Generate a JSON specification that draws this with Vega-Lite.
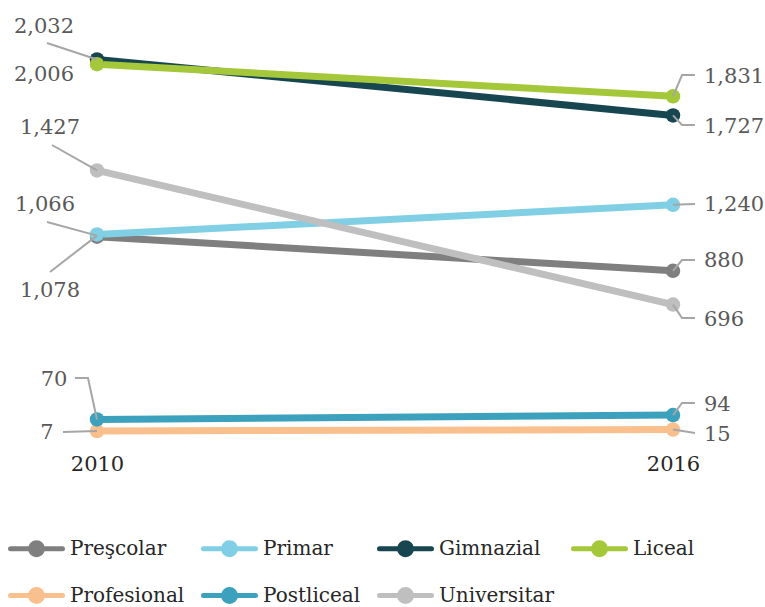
{
  "$schema": "https://vega.github.io/schema/vega-lite/v6.json",
  "width": 765,
  "height": 445,
  "autosize": {"type": "none"},
  "padding": {"left": 0, "top": 0, "right": 0, "bottom": 162},
  "background": "white",
  "config": {"view": {"stroke": null}, "font": "DejaVu Serif"},
  "datasets": {
    "series": [
      {"level": "Preşcolar", "year": 2010, "value": 1066},
      {"level": "Preşcolar", "year": 2016, "value": 880},
      {"level": "Primar", "year": 2010, "value": 1078},
      {"level": "Primar", "year": 2016, "value": 1240},
      {"level": "Gimnazial", "year": 2010, "value": 2032},
      {"level": "Gimnazial", "year": 2016, "value": 1727},
      {"level": "Liceal", "year": 2010, "value": 2006},
      {"level": "Liceal", "year": 2016, "value": 1831},
      {"level": "Profesional", "year": 2010, "value": 7},
      {"level": "Profesional", "year": 2016, "value": 15},
      {"level": "Postliceal", "year": 2010, "value": 70},
      {"level": "Postliceal", "year": 2016, "value": 94},
      {"level": "Universitar", "year": 2010, "value": 1427},
      {"level": "Universitar", "year": 2016, "value": 696}
    ],
    "labels": [
      {"text": "2,032", "side": "left", "year": 2009.448, "value": 2208.7},
      {"text": "2,006", "side": "left", "year": 2009.448, "value": 1947.1},
      {"text": "1,427", "side": "left", "year": 2009.51, "value": 1658.3},
      {"text": "1,066", "side": "left", "year": 2009.458, "value": 1238.7},
      {"text": "1,078", "side": "left", "year": 2009.51, "value": 770.0},
      {"text": "70", "side": "left", "year": 2009.552, "value": 285.0},
      {"text": "7", "side": "left", "year": 2009.479, "value": -3.8},
      {"text": "1,831", "side": "right", "year": 2016.323, "value": 1936.2},
      {"text": "1,727", "side": "right", "year": 2016.323, "value": 1663.8},
      {"text": "1,240", "side": "right", "year": 2016.323, "value": 1238.7},
      {"text": "880", "side": "right", "year": 2016.323, "value": 933.5},
      {"text": "696", "side": "right", "year": 2016.323, "value": 612.0},
      {"text": "94", "side": "right", "year": 2016.323, "value": 148.8},
      {"text": "15", "side": "right", "year": 2016.323, "value": -14.7}
    ],
    "leaders": [
      {"id": "A", "step": 1, "year": 2009.479, "value": 2121.5},
      {"id": "A", "step": 2, "year": 2010, "value": 2032},
      {"id": "B", "step": 1, "year": 2009.531, "value": 1565.7},
      {"id": "B", "step": 2, "year": 2010, "value": 1427},
      {"id": "C", "step": 1, "year": 2009.479, "value": 1146.1},
      {"id": "C", "step": 2, "year": 2010, "value": 1072},
      {"id": "D", "step": 1, "year": 2009.51, "value": 873.6},
      {"id": "D", "step": 2, "year": 2010, "value": 1072},
      {"id": "E", "step": 1, "year": 2009.771, "value": 295.9},
      {"id": "E", "step": 2, "year": 2009.906, "value": 295.9},
      {"id": "E", "step": 3, "year": 2010, "value": 70},
      {"id": "F", "step": 1, "year": 2009.646, "value": 1.6},
      {"id": "F", "step": 2, "year": 2010, "value": 7},
      {"id": "G", "step": 1, "year": 2016.229, "value": 1947.1},
      {"id": "G", "step": 2, "year": 2016.094, "value": 1947.1},
      {"id": "G", "step": 3, "year": 2016, "value": 1831},
      {"id": "H", "step": 1, "year": 2016, "value": 1727},
      {"id": "H", "step": 2, "year": 2016.094, "value": 1674.7},
      {"id": "H", "step": 3, "year": 2016.229, "value": 1674.7},
      {"id": "I", "step": 1, "year": 2016, "value": 1240},
      {"id": "I", "step": 2, "year": 2016.229, "value": 1244},
      {"id": "J", "step": 1, "year": 2016, "value": 880},
      {"id": "J", "step": 2, "year": 2016.094, "value": 939},
      {"id": "J", "step": 3, "year": 2016.229, "value": 939},
      {"id": "K", "step": 1, "year": 2016, "value": 696},
      {"id": "K", "step": 2, "year": 2016.094, "value": 622.9},
      {"id": "K", "step": 3, "year": 2016.229, "value": 622.9},
      {"id": "L", "step": 1, "year": 2016, "value": 94},
      {"id": "L", "step": 2, "year": 2016.094, "value": 159.7},
      {"id": "L", "step": 3, "year": 2016.229, "value": 159.7},
      {"id": "M", "step": 1, "year": 2016, "value": 15},
      {"id": "M", "step": 2, "year": 2016.229, "value": -3.8}
    ]
  },
  "layer": [
    {
      "data": {"name": "series"},
      "mark": {"type": "line", "strokeWidth": 7, "strokeCap": "round", "strokeJoin": "round"},
      "encoding": {
        "x": {
          "field": "year", "type": "quantitative",
          "scale": {"domain": [2008.9896, 2016.9583], "nice": false, "zero": false},
          "axis": {
            "values": [2010, 2016], "format": "d", "domain": false, "ticks": false, "grid": false,
            "labelFontSize": 21, "labelColor": "#262626", "labelFont": "DejaVu Serif",
            "labelPadding": 8, "title": null, "labelFlush": false
          }
        },
        "y": {
          "field": "value", "type": "quantitative",
          "scale": {"domain": [-69.2, 2355.9], "nice": false, "zero": false},
          "axis": null
        },
        "color": {
          "field": "level", "type": "nominal",
          "scale": {
            "domain": ["Preşcolar", "Primar", "Gimnazial", "Liceal", "Profesional", "Postliceal", "Universitar"],
            "range": ["#7f7f7f", "#80cfe5", "#174550", "#a5c83a", "#f9c08e", "#3ca1bd", "#bfbfbf"]
          },
          "legend": {
            "orient": "none", "direction": "horizontal", "legendX": 21, "legendY": 533, "columns": 4, "title": null, "padding": 0,
            "symbolType": "M-2,0L2,0M-0.46,0A0.46,0.46 0 1,0 0.46,0A0.46,0.46 0 1,0 -0.46,0Z",
            "symbolSize": 676, "symbolStrokeWidth": 5, "symbolOpacity": 1,
            "labelFontSize": 20, "labelFont": "DejaVu Serif", "labelColor": "#262626",
            "labelOffset": 18, "rowPadding": 14, "columnPadding": 8, "labelLimit": 0,
            "encode": {
              "symbols": {
                "update": {
                  "strokeCap": {"value": "round"},
                  "fill": {"scale": "color", "field": "value"},
                  "stroke": {"scale": "color", "field": "value"},
                  "opacity": {"value": 1}
                }
              }
            }
          }
        }
      }
    },
    {
      "data": {"name": "series"},
      "mark": {"type": "point", "filled": true, "size": 210, "opacity": 1},
      "encoding": {
        "x": {"field": "year", "type": "quantitative"},
        "y": {"field": "value", "type": "quantitative"},
        "color": {"field": "level", "type": "nominal"}
      }
    },
    {
      "data": {"name": "leaders"},
      "mark": {"type": "line", "color": "#a6a6a6", "strokeWidth": 2},
      "encoding": {
        "x": {"field": "year", "type": "quantitative"},
        "y": {"field": "value", "type": "quantitative"},
        "detail": {"field": "id", "type": "nominal"},
        "order": {"field": "step", "type": "quantitative"}
      }
    },
    {
      "data": {"name": "labels"},
      "transform": [{"filter": "datum.side === 'left'"}],
      "mark": {"type": "text", "fontSize": 21, "color": "#595959", "align": "center", "baseline": "middle", "font": "DejaVu Serif"},
      "encoding": {
        "x": {"field": "year", "type": "quantitative"},
        "y": {"field": "value", "type": "quantitative"},
        "text": {"field": "text", "type": "nominal"}
      }
    },
    {
      "data": {"name": "labels"},
      "transform": [{"filter": "datum.side === 'right'"}],
      "mark": {"type": "text", "fontSize": 21, "color": "#595959", "align": "left", "baseline": "middle", "font": "DejaVu Serif"},
      "encoding": {
        "x": {"field": "year", "type": "quantitative"},
        "y": {"field": "value", "type": "quantitative"},
        "text": {"field": "text", "type": "nominal"}
      }
    }
  ]
}
